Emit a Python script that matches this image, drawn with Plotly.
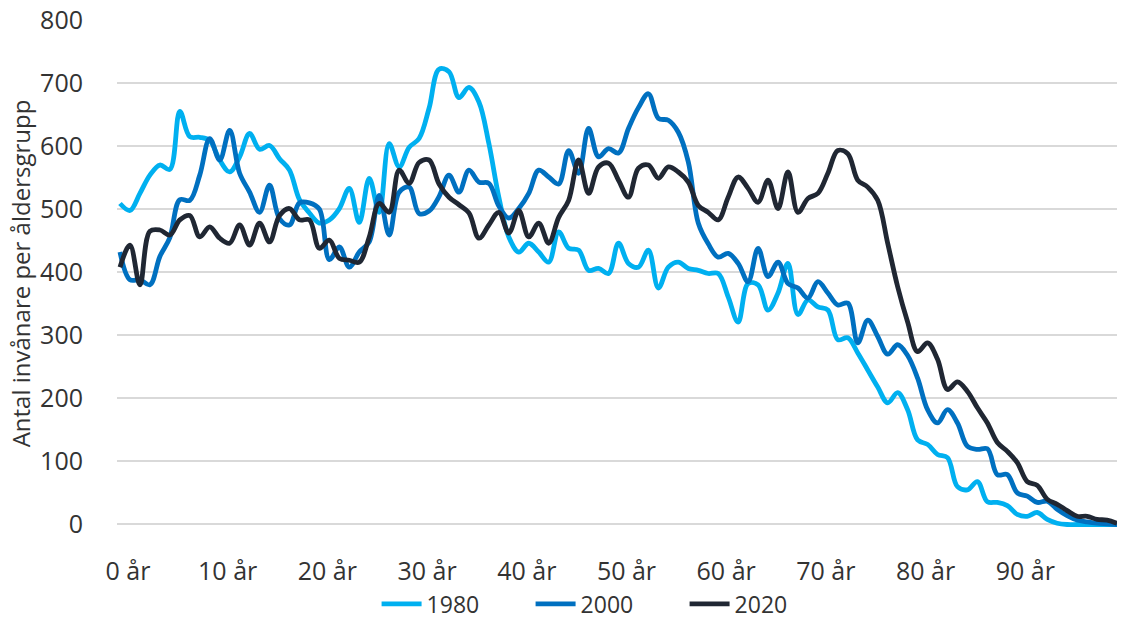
import plotly.graph_objects as go

# Ages 0..100 (one value per yearly age group)
ages = list(range(0, 101))

pop_1980 = [
    509, 498, 525, 554, 570, 563, 655, 615, 614, 609,
    578, 559, 583, 620, 595, 601, 580, 562, 515, 494,
    478, 483, 501, 533, 479, 549, 495, 604, 567, 598,
    612, 660, 722, 718, 677, 693, 670, 604, 519, 456,
    432, 446, 432, 416, 464, 438, 435, 403, 406, 398,
    446, 414, 408, 435, 375, 408, 416, 406, 403, 398,
    398, 361, 321, 382, 380, 340, 367, 414, 333, 356,
    345, 340, 293, 296, 272, 245, 218, 193, 209, 182,
    134, 127, 111, 106, 60, 55, 68, 36, 35, 30,
    16, 13, 19, 8, 2, 0, 0, 0, 0, 0,
    0,
]

pop_2000 = [
    432, 388, 388, 380, 425, 455, 515, 514, 554, 612,
    578, 625, 557, 527, 495, 538, 485, 475, 510, 510,
    500, 420, 440, 408, 432, 448, 522, 459, 527, 535,
    493, 497, 520, 554, 527, 562, 543, 541, 505, 486,
    501, 525, 562, 551, 540, 593, 557, 628, 583, 596,
    589, 628, 661, 683, 644, 641, 622, 575, 478, 445,
    424, 430, 414, 385, 438, 393, 416, 382, 375, 359,
    385, 367, 348, 351, 288, 324, 298, 270, 285, 268,
    232, 182, 161, 182, 161, 124, 119, 120, 79, 79,
    50, 45, 35, 37, 24, 14, 7, 4, 2, 1,
    0,
]

pop_2020 = [
    408, 443, 380, 465, 467, 459, 483, 490, 456, 472,
    454, 446, 475, 443, 478, 448, 490, 501, 483, 483,
    438, 451, 422, 419, 416, 456, 509, 495, 562, 541,
    574, 578, 540, 519, 507, 494, 454, 475, 495, 462,
    498, 456, 478, 446, 487, 514, 578, 525, 567, 573,
    546, 519, 565, 570, 549, 567, 559, 543, 506, 495,
    483, 519, 551, 533, 511, 546, 501, 559, 495, 517,
    525, 557, 593, 588, 546, 535, 514, 446, 377, 321,
    274, 288, 262, 214, 226, 211, 185, 161, 130, 116,
    98, 68, 62, 40, 32, 22, 13, 13, 8, 7,
    2,
]

series_names = ["1980", "2000", "2020"]
series_values = [pop_1980, pop_2000, pop_2020]
series_colors = ["#00B0F0", "#0070C0", "#202733"]

tick_ages = [0, 10, 20, 30, 40, 50, 60, 70, 80, 90]
tick_labels = [f"{a} år" for a in tick_ages]
label_shift = 0.8  # category labels sit slightly right of their age point

y_ticks = list(range(0, 801, 100))

FONT = "Open Sans"
TEXT_COLOR = "#333333"

fig = go.Figure()
for name, vals, col in zip(series_names, series_values, series_colors):
    fig.add_trace(
        go.Scatter(
            x=ages,
            y=vals,
            name=name,
            mode="lines",
            line=dict(color=col, width=4.8, shape="spline", smoothing=1.0),
            hoverinfo="x+y+name",
        )
    )

fig.update_layout(
    width=1121,
    height=622,
    paper_bgcolor="white",
    plot_bgcolor="white",
    margin=dict(l=117, r=4, t=20, b=95, autoexpand=False),
    font=dict(family=FONT, size=25, color=TEXT_COLOR),
    showlegend=True,
    legend=dict(
        orientation="h",
        xref="container",
        yref="container",
        x=0.542,
        xanchor="center",
        y=0.029,
        yanchor="middle",
        font=dict(family=FONT, size=23, color=TEXT_COLOR),
        itemwidth=40,
        entrywidth=99,
        entrywidthmode="pixels",
        tracegroupgap=0,
        bgcolor="rgba(0,0,0,0)",
    ),
    xaxis=dict(
        range=[-0.3, 100.0],
        tickmode="array",
        tickvals=[a + label_shift for a in tick_ages],
        ticktext=tick_labels,
        showgrid=False,
        zeroline=False,
        showline=False,
        ticks="outside",
        ticklen=22,
        tickcolor="rgba(0,0,0,0)",
        tickfont=dict(family=FONT, size=25, color=TEXT_COLOR),
        automargin=False,
    ),
    yaxis=dict(
        range=[-4, 800],
        tickmode="array",
        tickvals=y_ticks,
        showgrid=True,
        gridcolor="#D9D9D9",
        gridwidth=2,
        zeroline=False,
        showline=False,
        ticks="outside",
        ticklen=28,
        tickcolor="rgba(0,0,0,0)",
        tickfont=dict(family=FONT, size=25, color=TEXT_COLOR),
        automargin=False,
        title=dict(
            text="Antal invånare per åldersgrupp",
            font=dict(family=FONT, size=24, color=TEXT_COLOR),
            standoff=2,
        ),
    ),
)

fig.write_html("out.html")
